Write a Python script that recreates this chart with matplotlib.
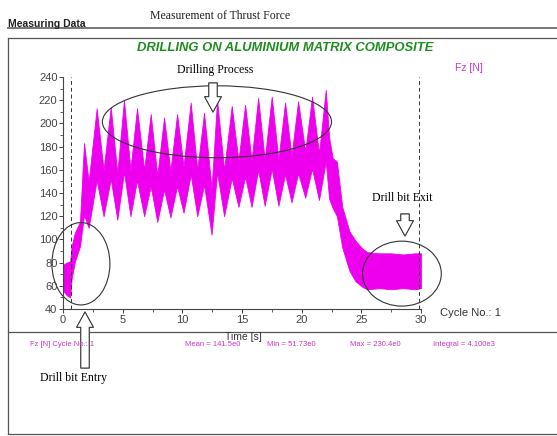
import matplotlib
matplotlib.use("Agg")
import matplotlib.pyplot as plt
from matplotlib.lines import Line2D
from matplotlib.patches import Ellipse

# envelope of the thrust force band (time in s, force in N)
peak_t = [1.76, 2.82, 4.00, 5.11, 6.20, 7.35, 8.47, 9.56, 10.70, 11.82,
          12.91, 14.14, 15.26, 16.35, 17.49, 18.61, 19.70, 20.87, 22.02]
peak_f = [183, 213, 214, 220, 213, 208, 205, 208, 218, 209,
          220, 215, 216, 222, 223, 218, 219, 223, 229]
trough_t = [2.15, 3.40, 4.55, 5.65, 6.80, 7.90, 9.00, 10.10, 11.25, 12.45,
            13.50, 14.70, 15.80, 16.90, 18.05, 19.15, 20.30, 21.45]
trough_f = [110, 120, 117, 120, 120, 115, 119, 123, 120, 104,
            120, 128, 128, 129, 129, 132, 136, 134]

start_t = [0.0, 0.3, 0.6, 0.72, 1.0, 1.42]
start_hi = [78, 80, 81, 94, 106, 115]
start_lo = [56, 52, 50, 66, 81, 94]

end_t = [22.3, 22.6, 22.95, 23.4, 24.0, 24.5, 25.1, 25.5, 26.5, 27.5, 28.5, 29.5, 30.0]
end_hi = [188, 170, 167, 128, 107, 99, 92, 89, 88, 88, 87, 88, 88]
end_lo = [135, 127, 120, 93, 73, 64, 59, 57, 58, 57, 58, 57, 58]

stats = ["Fz [N] Cycle No.: 1", "Mean = 141.5e0", "Min = 51.73e0",
         "Max = 230.4e0", "Integral = 4.100e3"]

W, H = 557, 436
def fx(px):
    return px / W
def fy(py):
    return 1 - py / H

# build the band from peaks and troughs
t, hi, lo = list(start_t), list(start_hi), list(start_lo)
for i in range(len(peak_t)):
    t.append(peak_t[i]); hi.append(peak_f[i]); lo.append(peak_f[i] - 62)
    if i < len(trough_t):
        t.append(trough_t[i]); hi.append(trough_f[i] + 40); lo.append(trough_f[i])
t += end_t; hi += end_hi; lo += end_lo

fig = plt.figure(figsize=(W / 100, H / 100), dpi=100)
ax = fig.add_axes([fx(63), fy(309), fx(421) - fx(63), fy(77) - fy(309)])

magenta = "#ee00ee"
ax.fill_between(t, lo, hi, color=magenta, lw=0.6, edgecolor=magenta)

ax.set_xlim(0, 30)
ax.set_ylim(40, 240)
ax.set_xticks(range(0, 31, 5))
ax.set_yticks(range(40, 241, 20))
ax.set_xticks([2.5 + 5 * k for k in range(6)], minor=True)
ax.set_yticks(range(50, 240, 20), minor=True)
for s in ["top", "right"]:
    ax.spines[s].set_visible(False)
for s in ["left", "bottom"]:
    ax.spines[s].set_linewidth(0.8)
    ax.spines[s].set_color("#444444")
ax.tick_params(labelsize=8, labelcolor="#444444", color="#444444", length=3, width=0.7, pad=1,
               labelfontfamily="Liberation Sans")
ax.tick_params(which="minor", length=2, width=0.6, color="#444444")

# dashed markers for entry and exit
ax.axvline(0.68, color="#333333", lw=0.7, ls=(0, (4, 3)))
ax.axvline(29.8, color="#333333", lw=0.7, ls=(0, (4, 3)))

# ellipses
for cx, cy, w, h in [(1.5, 79, 4.86, 71), (12.9, 201.4, 19.2, 62), (28.4, 70.5, 6.6, 56)]:
    ax.add_patch(Ellipse((cx, cy), w, h, fill=False, ec="#333333", lw=0.8, clip_on=False))

# frame lines of the report page
def hline(y, x0=8, x1=557, lw=0.9, c="#555555"):
    fig.add_artist(Line2D([fx(x0), fx(x1)], [fy(y), fy(y)], color=c, lw=lw, transform=fig.transFigure))
hline(28, lw=1.4, c="#777777")
hline(38)
hline(332)
hline(434)
fig.add_artist(Line2D([fx(8), fx(8)], [fy(38), fy(434)], color="#555555", lw=0.9, transform=fig.transFigure))

fig.text(fx(8), fy(27), "Measuring Data", fontsize=7.5, fontweight="bold",
         family="Liberation Sans", va="baseline", color="#222222")
fig.text(fx(150), fy(16), "Measurement of Thrust Force", fontsize=8.5,
         family="Liberation Serif", va="center", color="#222222")
fig.text(fx(285), fy(48), "DRILLING ON ALUMINIUM MATRIX COMPOSITE", fontsize=9.4,
         fontweight="bold", fontstyle="italic", family="Liberation Sans",
         color="#1e8c1e", ha="center", va="center")
fig.text(fx(455), fy(68), "Fz [N]", fontsize=7.5, color="#cc33cc",
         family="Liberation Sans", va="center")
fig.text(fx(440), fy(313), "Cycle No.: 1", fontsize=8, color="#333333",
         family="Liberation Sans", va="center")
fig.text(fx(243), fy(337), "Time [s]", fontsize=7.5, color="#333333",
         family="Liberation Sans", va="center", ha="center")

stat_x = [30, 185, 267, 350, 433]
for x, s in zip(stat_x, stats):
    fig.text(fx(x), fy(345), s, fontsize=5.5, color="#cc33cc",
             family="Liberation Sans", va="center")

fig.text(fx(177), fy(70), "Drilling Process", fontsize=8.5, family="Liberation Serif", va="center")
fig.text(fx(40), fy(378), "Drill bit Entry", fontsize=8.5, family="Liberation Serif", va="center")
fig.text(fx(372), fy(198), "Drill bit Exit", fontsize=8.5, family="Liberation Serif", va="center")

# hollow block arrows
def block_arrow(x0, y0, x1, y1):
    fig.add_artist(plt.annotate("", xy=(x1, H - y1), xytext=(x0, H - y0),
                                xycoords="figure pixels", textcoords="figure pixels",
                                arrowprops=dict(arrowstyle="simple,head_width=1.2,head_length=1.1,tail_width=0.6",
                                                fc="white", ec="#333333", lw=0.7,
                                                shrinkA=0, shrinkB=0, mutation_scale=10)))
block_arrow(213, 83, 213, 112)
block_arrow(85, 368, 85, 312)
block_arrow(405, 214, 405, 236)

fig.savefig("out.png", dpi=100)
